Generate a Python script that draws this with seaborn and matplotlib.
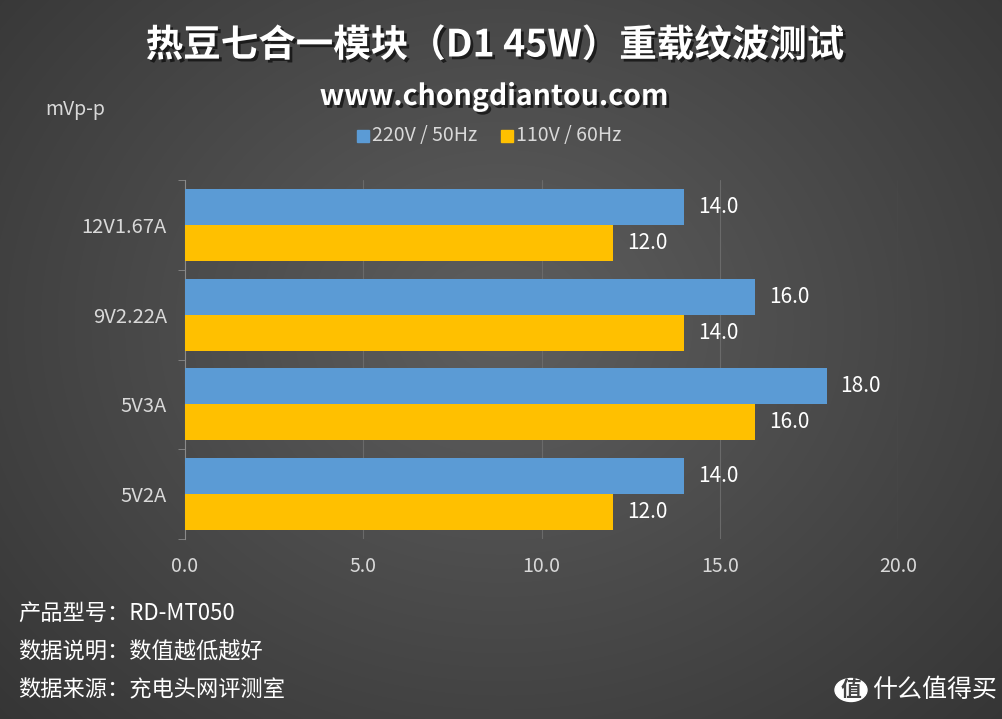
import numpy as np
import pandas as pd
import seaborn as sns
import matplotlib.pyplot as plt
import matplotlib.patheffects as pe

# data
categories = ['12V1.67A', '9V2.22A', '5V3A', '5V2A']
series = ['220V / 50Hz', '110V / 60Hz']
v220 = [14.0, 16.0, 18.0, 14.0]
v110 = [12.0, 14.0, 16.0, 12.0]
xticks = [0, 5, 10, 15, 20]

df = pd.DataFrame({
    'cat': categories * 2,
    'val': v220 + v110,
    'series': [series[0]] * 4 + [series[1]] * 4,
})

sns.set_style('dark')
plt.rcParams['font.family'] = ['Noto Sans CJK SC', 'DejaVu Sans']

W, H = 1002, 719
fig = plt.figure(figsize=(W / 100, H / 100), dpi=100)

# radial gray background
bg = fig.add_axes([0, 0, 1, 1], zorder=-5)
yy, xx = np.mgrid[0:H, 0:W]
r = np.sqrt(((xx - W * 0.5) / (W * 0.6)) ** 2 + ((yy - H * 0.45) / (H * 0.7)) ** 2)
g = np.clip(0.37 - 0.14 * r, 0.17, 0.4)
bg.imshow(np.dstack([g, g, g]), aspect='auto', extent=[0, 1, 0, 1])
bg.set_axis_off()

ax = fig.add_axes([185 / W, 1 - 539 / H, (898 - 185) / W, (539 - 180) / H])
ax.patch.set_alpha(0)
sns.barplot(data=df, y='cat', x='val', hue='series', orient='h',
            palette=['#5B9BD5', '#FFC000'], width=0.8, ax=ax, legend=False,
            zorder=3, saturation=1, linewidth=0)

for c in ax.containers:
    ax.bar_label(c, fmt='%.1f', padding=10, color='white', fontsize=15)

ax.set_xlim(0, 20)
ax.set_ylim(3.5, -0.5)
ax.set_xticks(xticks)
ax.set_xticklabels([f'{t:.1f}' for t in xticks])
ax.grid(False)
for t in xticks[1:]:
    ax.axvline(t, color='#6a6a6a', lw=0.8, zorder=1)
for s in ['top', 'right', 'bottom']:
    ax.spines[s].set_visible(False)
ax.spines['left'].set_visible(True)
ax.spines['left'].set_color('#8a8a8a')
ax.spines['left'].set_linewidth(0.8)
ax.set_yticks(np.arange(-0.5, 4, 1), minor=True)
ax.tick_params(axis='y', which='minor', length=5, color='#8a8a8a', left=True)
ax.tick_params(axis='y', which='major', length=0, pad=13, labelsize=14.5, labelcolor='#d9d9d9')
ax.tick_params(axis='x', length=0, pad=12, labelsize=14, labelcolor='#d9d9d9')
ax.set_xlabel('')
ax.set_ylabel('')

shadow = [pe.withSimplePatchShadow(offset=(2, -2), shadow_rgbFace='black', alpha=0.6)]
fig.text(495 / W, 1 - 45 / H, '热豆七合一模块（D1 45W）重载纹波测试', ha='center', va='center',
         fontsize=27, fontweight='bold', color='white', path_effects=shadow)
fig.text(494 / W, 1 - 97 / H, 'www.chongdiantou.com', ha='center', va='center',
         fontsize=20.5, fontweight='bold', color='white', path_effects=shadow)
fig.text(45 / W, 1 - 110 / H, 'mVp-p', ha='left', va='center', fontsize=14, color='#d9d9d9')

# legend
fig.patches.append(plt.Rectangle((357 / W, 1 - 142 / H), 12 / W, 12 / H,
                                 transform=fig.transFigure, color='#5B9BD5'))
fig.text(372 / W, 1 - 135 / H, series[0], ha='left', va='center', fontsize=14, color='#d9d9d9')
fig.patches.append(plt.Rectangle((501 / W, 1 - 142 / H), 12 / W, 12 / H,
                                 transform=fig.transFigure, color='#FFC000'))
fig.text(516 / W, 1 - 135 / H, series[1], ha='left', va='center', fontsize=14, color='#d9d9d9')

for y, s in [(613, '产品型号：RD-MT050'), (652, '数据说明：数值越低越好'), (690, '数据来源：充电头网评测室')]:
    fig.text(18 / W, 1 - y / H, s, ha='left', va='center', fontsize=16, color='white')

# watermark
fig.patches.append(plt.Circle((851 / W, 1 - 690 / H), 16 / W, transform=fig.transFigure,
                              color='white'))
fig.text(851 / W, 1 - 690 / H, '值', ha='center', va='center', fontsize=15,
         fontweight='bold', color='#444444')
fig.text(872 / W, 1 - 690 / H, '什么值得买', ha='left', va='center', fontsize=18, color='white')

fig.savefig('out.png', dpi=100)
